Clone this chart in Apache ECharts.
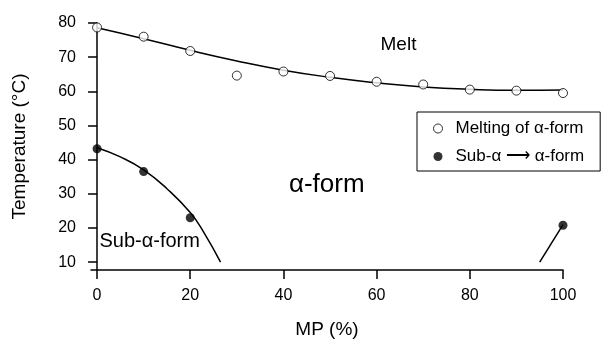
<!DOCTYPE html>
<html><head><meta charset="utf-8">
<script src="https://cdn.jsdelivr.net/npm/echarts@6/dist/echarts.min.js"></script>
<style>html,body{margin:0;padding:0;background:#fff}#c{width:613px;height:351px}</style>
</head><body><div id="c"></div>
<script>
var xTicks = [0, 20, 40, 60, 80, 100];
var yTicks = [10, 20, 30, 40, 50, 60, 70, 80];
var meltX = [0, 10, 20, 30, 40, 50, 60, 70, 80, 90, 100];
var meltY = [78.7, 76.0, 71.8, 64.6, 65.8, 64.5, 62.8, 62.0, 60.5, 60.2, 59.5];
var meltFitX = [0, 10, 20, 30, 40, 50, 60, 70, 80, 90, 100];
var meltFitY = [78.6, 75.4, 72.0, 68.9, 66.2, 64.1, 62.5, 61.3, 60.6, 60.3, 60.4];
var subX = [0, 10, 20, 100];
var subY = [43.2, 36.5, 23.0, 20.8];
var subFitX = [0, 5, 10, 15, 20, 23, 26.5];
var subFitY = [43.5, 40.8, 37.0, 31.5, 24.5, 18.5, 10.0];
var rightFitX = [95, 100];
var rightFitY = [10.0, 21.0];
var notes = [
  {name: 'Melt', x: 64.8, y: 73.5, size: 19},
  {name: '\u03b1-form', x: 49.4, y: 32.5, size: 26},
  {name: 'Sub-\u03b1-form', x: 11.4, y: 16.0, size: 20}
];
var FONT = 'Liberation Sans';
var chart = echarts.init(document.getElementById('c'));
function pairs(xs, ys){ return xs.map(function(x,i){return [x, ys[i]];}); }
chart.setOption({
  animation: false,
  backgroundColor: '#fff',
  textStyle: {fontFamily: FONT, color: '#000'},
  grid: {left: 91, right: 50, top: 23, bottom: 81},
  legend: {
    left: 417, top: 112, orient: 'vertical', itemGap: 11,
    borderColor: '#000', borderWidth: 1, padding: [8, 16, 6, 16],
    itemWidth: 9, itemHeight: 9,
    textStyle: {fontFamily: FONT, fontSize: 17, color: '#000', padding: [0, 0, 0, 8]},
    data: [
      {name: 'Melting of \u03b1-form', icon: 'circle', itemStyle: {color: '#fff', borderColor: '#000', borderWidth: 1}},
      {name: 'Sub-\u03b1 \u27f6 \u03b1-form', icon: 'circle', itemStyle: {color: '#000'}}
    ]
  },
  xAxis: {
    type: 'value', min: -1.3, max: 100,
    name: 'MP (%)', nameLocation: 'middle', nameGap: 50,
    nameTextStyle: {fontFamily: FONT, fontSize: 19, color: '#000'},
    axisLine: {lineStyle: {color: '#000', width: 1.5}},
    axisTick: {length: 9, customValues: xTicks, lineStyle: {color: '#000', width: 1.5}},
    axisLabel: {customValues: xTicks, fontSize: 16, color: '#000', margin: 18, fontFamily: FONT},
    splitLine: {show: false}
  },
  yAxis: {
    type: 'value', min: 7.7, max: 80,
    name: 'Temperature (\u00b0C)', nameLocation: 'middle', nameGap: 62,
    nameTextStyle: {fontFamily: FONT, fontSize: 19, color: '#000'},
    axisLine: {show: true, lineStyle: {color: '#000', width: 1.5}},
    axisTick: {show: true, length: 9, customValues: yTicks, lineStyle: {color: '#000', width: 1.5}},
    axisLabel: {customValues: yTicks, fontSize: 16, color: '#000', margin: 15, fontFamily: FONT},
    splitLine: {show: false}
  },
  series: [
    {type: 'line', data: pairs(meltFitX, meltFitY), smooth: true, showSymbol: false, symbol: 'none',
     lineStyle: {color: '#000', width: 1.5}, silent: true, z: 1},
    {type: 'line', data: pairs(subFitX, subFitY), smooth: true, symbol: 'none',
     lineStyle: {color: '#000', width: 1.5}, silent: true, z: 1},
    {type: 'line', data: pairs(rightFitX, rightFitY), symbol: 'none',
     lineStyle: {color: '#000', width: 1.5}, silent: true, z: 1},
    {name: 'Melting of \u03b1-form', type: 'scatter', data: pairs(meltX, meltY), symbol: 'circle', symbolSize: 9,
     itemStyle: {color: '#fff', borderColor: '#000', borderWidth: 1}, z: 3},
    {name: 'Sub-\u03b1 \u27f6 \u03b1-form', type: 'scatter', data: pairs(subX, subY), symbol: 'circle', symbolSize: 9,
     itemStyle: {color: '#000'}, z: 3},
    {type: 'scatter', symbolSize: 1, silent: true, z: 4,
     itemStyle: {color: 'rgba(0,0,0,0)'},
     label: {show: true, position: [0, 0], align: 'center', verticalAlign: 'middle', color: '#000', opacity: 1},
     emphasis: {disabled: true},
     data: notes.map(function(n){ return {value: [n.x, n.y], name: n.name,
       label: {formatter: n.name, fontSize: n.size, color: '#000', fontFamily: FONT}}; })}
  ]
});
</script></body></html>
